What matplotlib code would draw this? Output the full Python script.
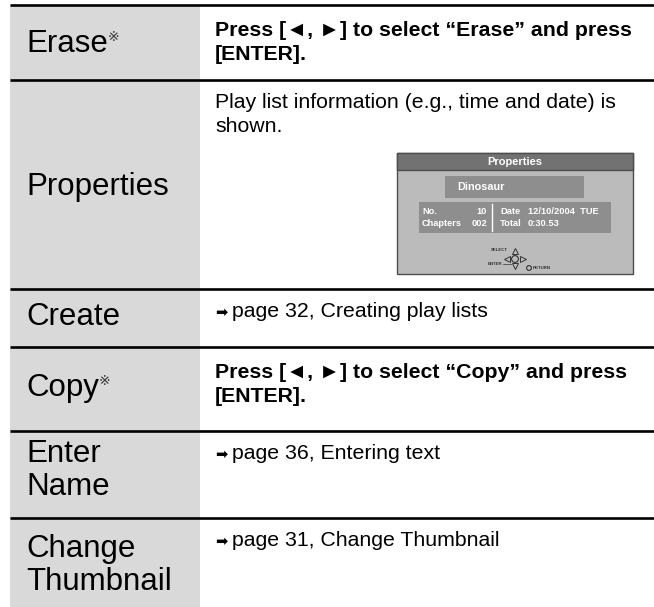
import matplotlib
matplotlib.use("Agg")
import matplotlib.pyplot as plt
from matplotlib.patches import Rectangle, Circle
from matplotlib import font_manager

W, H = 654, 607

# table content
row_labels = [["Erase"], ["Properties"], ["Create"], ["Copy"], ["Enter", "Name"],
              ["Change", "Thumbnail"]]
row_marks = [True, False, False, True, False, False]   # small reference mark
row_texts = [
    ["Press [\u25c4, \u25ba] to select \u201cErase\u201d and press", "[ENTER]."],
    ["Play list information (e.g., time and date) is", "shown."],
    ["page 32, Creating play lists"],
    ["Press [\u25c4, \u25ba] to select \u201cCopy\u201d and press", "[ENTER]."],
    ["page 36, Entering text"],
    ["page 31, Change Thumbnail"],
]
row_bold = [True, False, False, True, False, False]
row_arrow = [False, False, True, False, True, True]

# mini screen content
screen_title = "Properties"
screen_name = "Dinosaur"
info_left_keys = ["No.", "Chapters"]
info_left_vals = ["10", "002"]
info_right_keys = ["Date", "Total"]
info_right_vals = ["12/10/2004  TUE", "0:30.53"]

# layout (pixels)
EDGES = [5, 80, 289, 347, 431, 518, 607]
GX0, GX1 = 10, 200
LX, RX = 26, 215
GRAY = "#d9d9d9"
label_base = [47, 115, 36, 49, 31, 39]
label_gap = 33
text_base = [31, 28, 28, 31, 28, 28]
text_gap = 24

names = {f.name for f in font_manager.fontManager.ttflist}
NARROW = "Liberation Sans Narrow" if "Liberation Sans Narrow" in names else "Liberation Sans"
FAM = ["Liberation Sans", "DejaVu Sans", "Noto Sans CJK JP"]

fig = plt.figure(figsize=(W / 100, H / 100), dpi=100)
ax = fig.add_axes([0, 0, 1, 1])
ax.set_xlim(0, W)
ax.set_ylim(H, 0)
ax.axis("off")

ax.add_patch(Rectangle((GX0, EDGES[0]), GX1 - GX0, H - EDGES[0], fc=GRAY, ec="none"))
for y in EDGES[:-1]:
    ax.plot([GX0, W], [y, y], color="black", lw=1.9, solid_capstyle="butt")

for i, lines in enumerate(row_labels):
    top = EDGES[i]
    for k, line in enumerate(lines):
        t = ax.text(LX, top + label_base[i] + k * label_gap, line, family=FAM,
                    fontsize=22.5, va="baseline", ha="left")
    if row_marks[i]:
        ax.annotate("\u203b", xy=(1.0, 0.72), xycoords=t, family=FAM, fontsize=10,
                    va="center", ha="left", color="#3a3a3a")

    tx = RX
    if row_arrow[i]:
        ax.text(RX, top + text_base[i] - 5, "\u27a1", family=["DejaVu Sans"], fontsize=10.5,
                va="center", ha="left")
        tx = RX + 17
    for k, line in enumerate(row_texts[i]):
        ax.text(tx, top + text_base[i] + k * text_gap, line, family=FAM, fontsize=15.3,
                fontweight="bold" if row_bold[i] else "normal",
                va="baseline", ha="left")

# mini screen inside the Properties row
bx0, by0, bw, bh = 397, 153, 236, 121
ax.add_patch(Rectangle((bx0, by0), bw, bh, fc="#bbbbbb", ec="#4d4d4d", lw=1.0))
ax.add_patch(Rectangle((bx0, by0), bw, 17, fc="#727272", ec="#4d4d4d", lw=1.0))
ax.text(bx0 + bw / 2, by0 + 9, screen_title, family=FAM, fontsize=8, fontweight="bold",
        color="white", ha="center", va="center")
ax.add_patch(Rectangle((bx0 + 48, by0 + 23), 139, 22, fc="#8e8e8e", ec="none"))
ax.text(bx0 + 60, by0 + 34, screen_name, family=FAM, fontsize=7.8, fontweight="bold",
        color="white", ha="left", va="center")
ax.add_patch(Rectangle((bx0 + 22, by0 + 49), 192, 31, fc="#8e8e8e", ec="none"))
sep = bx0 + 95
ax.plot([sep, sep], [by0 + 51, by0 + 78], color="white", lw=1.0)
for k in range(2):
    yy = by0 + 59 + k * 12
    ax.text(bx0 + 25, yy, info_left_keys[k], family=[NARROW], fontsize=6.7, fontweight="bold",
            color="white", ha="left", va="center")
    ax.text(sep - 5, yy, info_left_vals[k], family=[NARROW], fontsize=6.7, fontweight="bold",
            color="white", ha="right", va="center")
    ax.text(sep + 8, yy, info_right_keys[k], family=[NARROW], fontsize=6.7, fontweight="bold",
            color="white", ha="left", va="center")
    ax.text(sep + 36, yy, info_right_vals[k], family=[NARROW], fontsize=6.7, fontweight="bold",
            color="white", ha="left", va="center")

# remote control hint
cx, cy = bx0 + 118, by0 + 106
ink = "#333333"
ax.add_patch(Circle((cx, cy), 3.4, fc="none", ec=ink, lw=0.8))
ax.plot([cx], [cy - 8], marker="^", ms=4.5, mfc="none", mec=ink, mew=0.7)
ax.plot([cx], [cy + 7], marker="v", ms=4.5, mfc="none", mec=ink, mew=0.7)
ax.plot([cx - 8], [cy], marker="<", ms=4.5, mfc="none", mec=ink, mew=0.7)
ax.plot([cx + 8], [cy], marker=">", ms=4.5, mfc="none", mec=ink, mew=0.7)
ax.text(cx - 7, cy - 9, "SELECT", family=[NARROW], fontsize=3.2, fontweight="bold",
        color=ink, ha="right", va="center")
ax.text(cx - 13, cy + 5, "ENTER", family=[NARROW], fontsize=3.2, fontweight="bold",
        color=ink, ha="right", va="center")
ax.plot([cx - 12, cx - 4], [cy + 5, cy + 5], color=ink, lw=0.5)
ax.add_patch(Circle((cx + 14, cy + 9), 2.4, fc="none", ec=ink, lw=0.8))
ax.text(cx + 18, cy + 9, "RETURN", family=[NARROW], fontsize=3.2, fontweight="bold",
        color=ink, ha="left", va="center")

fig.savefig("out.png", dpi=100)
